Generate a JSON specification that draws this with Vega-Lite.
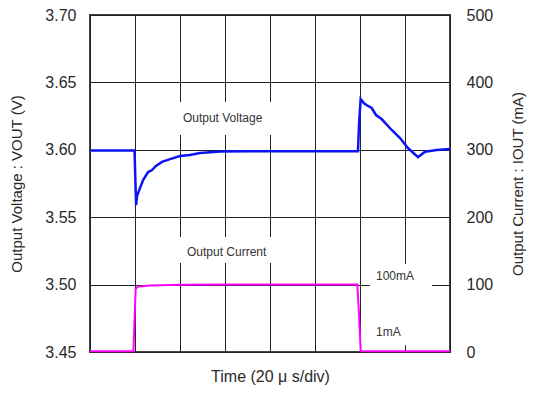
{
  "$schema": "https://vega.github.io/schema/vega-lite/v6.json",
  "autosize": {"type": "none"},
  "width": 360,
  "height": 337,
  "padding": {"left": 90, "top": 15, "right": 83, "bottom": 44},
  "background": "white",
  "config": {
    "font": "Liberation Sans",
    "view": {"stroke": "#444", "strokeWidth": 2},
    "axis": {"labelFont": "Liberation Sans", "titleFont": "Liberation Sans", "labelColor": "#2a2a2a", "titleColor": "#2a2a2a", "titleFontWeight": "normal", "domain": false, "ticks": false, "gridColor": "#222", "gridWidth": 1, "gridOpacity": 1}
  },
  "datasets": {
    "voltage": [
      {"t": 0, "v": 3.5995}, {"t": 10, "v": 3.5995}, {"t": 19.8, "v": 3.5995}, {"t": 20.2, "v": 3.575},
      {"t": 20.5, "v": 3.559}, {"t": 20.9, "v": 3.5657}, {"t": 22.2, "v": 3.5716}, {"t": 23.6, "v": 3.5776},
      {"t": 25.8, "v": 3.5835}, {"t": 27.6, "v": 3.585}, {"t": 29.3, "v": 3.588}, {"t": 32, "v": 3.591},
      {"t": 35.6, "v": 3.5931}, {"t": 40, "v": 3.5954}, {"t": 44.4, "v": 3.5961}, {"t": 48.9, "v": 3.5976},
      {"t": 57.8, "v": 3.5987}, {"t": 71.1, "v": 3.599}, {"t": 93.3, "v": 3.599}, {"t": 119.1, "v": 3.599},
      {"t": 119.6, "v": 3.62}, {"t": 120.3, "v": 3.6377}, {"t": 121.8, "v": 3.6345}, {"t": 123, "v": 3.633},
      {"t": 125.2, "v": 3.631}, {"t": 127.1, "v": 3.6258}, {"t": 129.6, "v": 3.6228}, {"t": 134.1, "v": 3.6147},
      {"t": 137.8, "v": 3.6087}, {"t": 141.3, "v": 3.6013}, {"t": 145.8, "v": 3.5946}, {"t": 148.9, "v": 3.5986},
      {"t": 154.1, "v": 3.5998}, {"t": 160, "v": 3.6006}
    ],
    "current": [
      {"t": 0, "i": 1}, {"t": 19.3, "i": 1}, {"t": 20.3, "i": 94}, {"t": 21.3, "i": 97},
      {"t": 26.7, "i": 98.5}, {"t": 40, "i": 99.8}, {"t": 60, "i": 100}, {"t": 118.8, "i": 100},
      {"t": 119.5, "i": 60}, {"t": 120.3, "i": 2}, {"t": 121, "i": 1}, {"t": 160, "i": 1}
    ],
    "boxes": [
      {"t1": 39.1, "t2": 88.9, "v1": 3.611, "v2": 3.6355},
      {"t1": 39.1, "t2": 88.9, "v1": 3.516, "v2": 3.5353},
      {"t1": 124.4, "t2": 152, "v1": 3.4551, "v2": 3.5152}
    ],
    "labels": [
      {"t": 41.3, "v": 3.6236, "label": "Output Voltage"},
      {"t": 43.1, "v": 3.5241, "label": "Output Current"},
      {"t": 127.1, "v": 3.5063, "label": "100mA"},
      {"t": 127.1, "v": 3.4648, "label": "1mA"}
    ]
  },
  "layer": [
    {
      "layer": [
        {
          "data": {"name": "boxes"},
          "mark": {"type": "rect", "fill": "white", "stroke": null},
          "encoding": {
            "x": {"field": "t1", "type": "quantitative", "scale": {"domain": [0, 160], "nice": false},
                  "axis": {"values": [0, 20, 40, 60, 80, 100, 120, 140, 160], "labels": false, "grid": true, "title": "Time (20 μ s/div)", "titleFontSize": 16, "titlePadding": 16}},
            "x2": {"field": "t2"},
            "y": {"field": "v1", "type": "quantitative", "scale": {"domain": [3.45, 3.7], "nice": false, "zero": false},
                  "axis": {"values": [3.45, 3.5, 3.55, 3.6, 3.65, 3.7], "format": ".2f", "grid": true, "labelFontSize": 16, "labelPadding": 14, "title": "Output Voltage : VOUT (V)", "titleFontSize": 15, "titlePadding": 20}},
            "y2": {"field": "v2"}
          }
        },
        {
          "data": {"name": "voltage"},
          "mark": {"type": "line", "color": "#0a14f5", "strokeWidth": 2.5},
          "encoding": {
            "x": {"field": "t", "type": "quantitative"},
            "y": {"field": "v", "type": "quantitative"}
          }
        },
        {
          "data": {"name": "labels"},
          "mark": {"type": "text", "align": "left", "baseline": "middle", "fontSize": 12, "color": "#333", "font": "Liberation Sans"},
          "encoding": {
            "x": {"field": "t", "type": "quantitative"},
            "y": {"field": "v", "type": "quantitative"},
            "text": {"field": "label"}
          }
        }
      ]
    },
    {
      "data": {"name": "current"},
      "mark": {"type": "line", "color": "#ff00ff", "strokeWidth": 2},
      "encoding": {
        "x": {"field": "t", "type": "quantitative"},
        "y": {"field": "i", "type": "quantitative", "scale": {"domain": [0, 500], "nice": false},
              "axis": {"orient": "right", "values": [0, 100, 200, 300, 400, 500], "grid": false, "labelFontSize": 16, "labelPadding": 16, "title": "Output Current : IOUT (mA)", "titleFontSize": 15, "titleAngle": 270, "titleBaseline": "bottom", "titlePadding": 33}}
      }
    }
  ],
  "resolve": {"scale": {"y": "independent"}}
}
